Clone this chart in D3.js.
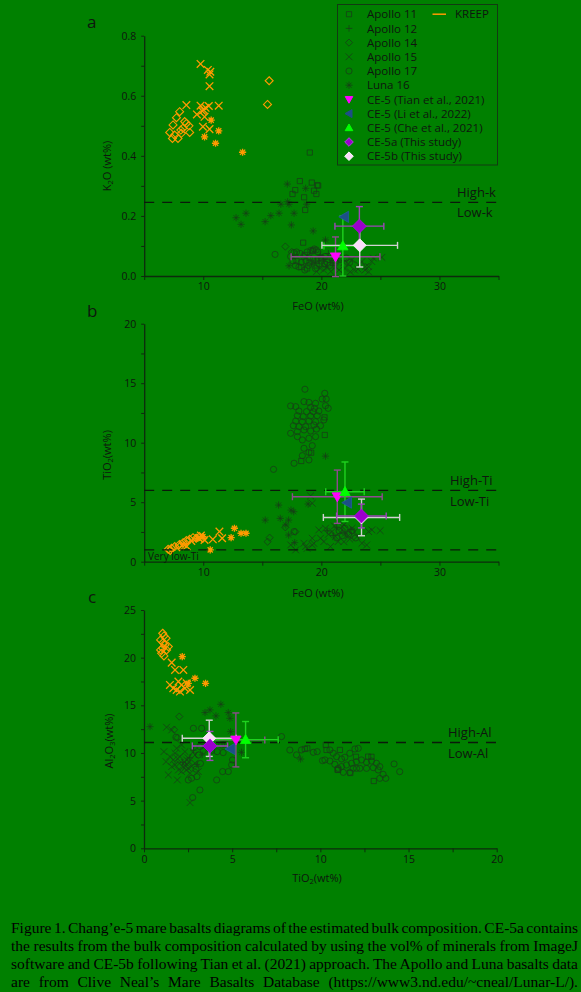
<!DOCTYPE html>
<html>
<head>
<meta charset="utf-8">
<script src="https://cdn.jsdelivr.net/npm/d3@7"></script>
<style>
  html, body { margin: 0; padding: 0; background: #008000; }
  svg { display: block; }
</style>
</head>
<body>
<svg id="chart" width="581" height="992"></svg>
<script>
// ---------- Tick labels ----------
const feoTicks = [10, 20, 30];
const k2oTicks = [0, 0.2, 0.4, 0.6, 0.8];
const tio2Ticks = [0, 5, 10, 15, 20];
const al2o3Ticks = [0, 5, 10, 15, 20, 25];

// ---------- Panel a: FeO vs K2O ----------
const aApollo11 = [[19.02,0.411],[18.18,0.316],[19.19,0.311],[19.66,0.302],[17.56,0.273],[17.79,0.286],[18.54,0.262],[18.63,0.220],[19.38,0.284],[19.58,0.273],[18.46,0.111],[19.73,0.301],[18.3,0.030],[19.0,0.045],[18.8,0.025],[19.6,0.035],[20.3,0.040],[17.9,0.050],[20.0,0.060],[19.3,0.085],[18.6,0.070]];
const aApollo12 = [[19.5,0.050],[20.2,0.055],[20.8,0.045],[21.3,0.060],[21.8,0.050],[19.9,0.070],[20.6,0.075],[21.0,0.035],[19.2,0.040],[20.4,0.030]];
const aApollo14 = [[16.95,0.098],[17.5,0.080]];
const aApollo15 = [[23.43,0.048],[24.0,0.031],[24.27,0.048],[25.12,0.062],[23.1,0.023],[22.45,0.014],[23.15,0.037],[22.8,0.020],[22.0,0.025],[21.5,0.020],[20.8,0.015],[20.2,0.020],[19.6,0.015],[21.2,0.030],[22.3,0.040],[23.7,0.020],[24.4,0.060],[22.6,0.055],[21.9,0.045],[20.5,0.030],[19.9,0.025],[23.73,0.031],[24.0,0.014]];
const aApollo17 = [[16.08,0.072],[17.6,0.050],[17.9,0.080],[18.2,0.075],[18.5,0.065],[18.8,0.080],[19.1,0.085],[19.4,0.090],[19.7,0.080],[18.3,0.045],[18.7,0.050],[19.0,0.060],[19.3,0.055],[19.6,0.050],[20.0,0.050],[20.3,0.065],[20.6,0.055],[20.9,0.060],[21.2,0.050],[17.8,0.035],[18.1,0.030],[18.9,0.035],[19.8,0.040],[20.5,0.045],[21.6,0.055],[22.1,0.060],[22.4,0.045],[17.4,0.065],[18.6,0.020],[19.5,0.025],[20.7,0.035],[17.68,0.078],[19.23,0.083],[19.56,0.087]];
const aLuna16 = [[17.12,0.306],[18.67,0.292],[17.26,0.239],[16.57,0.239],[18.75,0.239],[16.42,0.209],[15.72,0.201],[13.62,0.209],[12.78,0.194],[13.2,0.172],[15.24,0.181],[17.69,0.209],[17.46,0.170],[19.31,0.150],[20.35,0.120],[17.26,0.034],[17.14,0.247]];
const aKreepDiamond = [[15.58,0.650],[15.44,0.571],[7.73,0.527],[8.0,0.547],[7.44,0.503],[7.16,0.478],[7.58,0.469],[7.86,0.458],[7.39,0.458],[8.28,0.492],[8.57,0.508],[8.79,0.500],[8.85,0.478],[8.15,0.475],[8.43,0.514],[8.1,0.486]];
const aKreepCross = [[9.77,0.706],[10.39,0.686],[10.53,0.671],[10.6,0.680],[10.53,0.632],[8.57,0.569],[9.77,0.567],[10.47,0.566],[11.31,0.567],[9.46,0.538],[10.03,0.553],[10.11,0.530],[9.97,0.497],[10.53,0.489],[10.2,0.560],[9.9,0.550]];
const aKreepStar = [[10.67,0.519],[11.31,0.483],[10.11,0.463],[11.04,0.442],[13.33,0.412]];

// ---------- Panel b: FeO vs TiO2 ----------
const bApollo11 = [[20.29,10.65],[19.14,9.16],[18.3,8.46],[20.27,12.13]];
const bApollo12 = [[20.5,2.6],[21.3,2.9],[22.0,2.4],[21.0,2.2],[22.5,2.7]];
const bApollo14 = [[15.45,1.68],[15.62,2.02],[16.95,2.89],[17.8,2.52]];
const bApollo15 = [[17.41,1.41],[17.83,0.99],[18.53,1.55],[19.23,1.97],[18.67,1.27],[19.79,2.67],[19.93,1.97],[20.35,2.81],[20.91,2.53],[21.2,2.11],[21.76,2.95],[22.04,2.39],[22.6,2.81],[23.02,2.11],[23.44,1.55],[24.0,2.53],[24.28,2.67],[24.98,2.61],[21.42,1.69],[20.77,1.27],[20.21,1.69],[19.23,1.41],[19.09,5.53],[19.23,4.91],[23.84,1.4],[18.79,1.12],[19.36,1.54],[21.91,1.68],[22.3,2.2],[21.6,2.5],[22.8,2.5],[21.9,3.1],[22.4,1.9],[20.6,2.3],[21.1,3.0]];
const bApollo17 = [[18.61,14.49],[20.29,14.15],[20.07,13.67],[20.41,13.67],[17.4,13.09],[17.83,13.03],[18.53,13.45],[18.95,13.39],[19.51,13.31],[19.42,12.89],[19.09,12.97],[18.1,12.66],[18.75,12.61],[19.31,12.61],[19.79,12.66],[20.58,12.89],[20.35,13.11],[17.97,12.27],[18.47,12.19],[19.09,12.24],[19.65,12.27],[20.21,11.91],[17.83,11.82],[18.39,11.77],[18.95,11.82],[19.51,11.77],[17.63,11.43],[18.1,11.35],[18.67,11.35],[19.37,11.49],[19.93,11.43],[17.4,10.79],[17.97,10.93],[18.53,11.07],[19.09,10.98],[19.59,11.15],[17.97,10.51],[18.39,10.23],[18.95,10.37],[19.51,10.51],[19.23,9.75],[18.53,9.53],[18.95,9.19],[18.39,8.91],[17.69,8.27],[18.95,8.55],[15.95,7.76],[17.69,2.53],[21.5,2.6],[22.0,2.8],[22.3,2.3],[21.8,2.2],[22.6,2.6],[21.3,2.0],[22.9,2.0]];
const bLuna16 = [[15.25,3.50],[16.38,4.76],[16.52,3.64],[17.23,3.50],[17.43,4.34],[17.66,4.20],[17.23,2.24],[17.74,1.60],[18.88,4.85],[20.35,8.87],[16.99,3.09]];
const bKreepDiamond = [[7.03,1.04],[7.31,1.13],[7.59,1.27],[7.95,1.41],[8.29,1.6],[8.57,1.77],[8.85,1.88],[9.13,2.02],[9.41,1.97],[9.69,2.11],[9.97,1.97],[7.2,0.95],[8.0,1.25]];
const bKreepCross = [[11.37,2.53],[10.81,1.88],[11.6,1.97],[8.29,1.49],[8.99,1.74],[9.63,1.97],[10.11,1.83],[9.8,2.2],[8.6,1.3]];
const bKreepStar = [[10.59,0.99],[12.36,2.02],[12.64,2.81],[13.2,2.39],[13.62,2.39],[9.97,2.11],[9.55,1.97]];

// ---------- Panel c: TiO2 vs Al2O3 ----------
const cApollo11 = [[9.12,10.42],[9.26,10.49],[10.31,10.84],[10.35,10.32],[11.11,10.32],[11.01,8.22],[12.71,9.62],[13.03,7.06],[10.97,8.25],[12.02,9.6],[11.7,7.9],[12.9,9.6]];
const cApollo12 = [[2.6,9.5],[3.0,8.8],[2.2,9.0],[2.8,10.3],[3.3,9.8]];
const cApollo14 = [[2.0,13.82],[1.71,12.45],[1.9,11.6]];
const cApollo15 = [[1.28,12.7],[1.57,12.42],[1.13,10.14],[1.85,10.49],[1.47,9.62],[1.25,9.09],[1.57,8.57],[1.38,7.7],[1.89,7.17],[2.61,4.79],[2.89,8.92],[3.08,8.05],[2.79,10.14],[2.32,10.14],[2.04,9.62],[2.42,9.27],[2.23,8.57],[1.95,8.22],[2.61,7.87],[1.66,9.27],[1.76,9.97],[2.13,10.84],[2.51,8.4],[2.89,9.79],[1.76,8.75],[2.13,8.05],[2.3,9.0],[2.5,9.5],[2.0,8.9],[2.7,8.6],[1.9,9.4],[2.4,8.2],[2.45,8.8],[2.35,8.6],[2.55,9.1]];
const cApollo17 = [[2.8,12.59],[3.27,12.59],[1.81,11.65],[3.36,10.25],[3.83,10.25],[4.4,10.84],[4.59,10.95],[4.15,10.14],[4.49,10.04],[5.02,9.27],[4.97,8.75],[4.12,7.17],[4.46,8.05],[4.78,8.05],[3.17,6.12],[2.76,5.32],[2.51,7.17],[2.7,7.35],[3.0,7.52],[7.8,11.72],[3.08,9.79],[3.17,10.67],[2.95,8.3],[3.2,8.9],[8.27,10.31],[8.65,9.8],[8.93,10.32],[9.6,10.07],[9.82,10.14],[10.12,9.2],[10.26,9.27],[10.54,10.32],[10.73,9.97],[10.92,9.62],[11.2,9.37],[11.39,9.55],[11.67,9.97],[11.96,10.42],[12.15,10.49],[10.54,9.16],[10.82,8.81],[11.2,8.57],[11.48,8.74],[11.77,8.92],[12.05,9.09],[12.33,9.27],[12.62,9.02],[12.9,9.16],[13.18,8.92],[13.37,8.57],[11.86,8.39],[12.24,8.39],[12.62,8.39],[13.0,8.46],[13.28,8.22],[13.56,7.76],[13.71,7.34],[13.37,7.34],[14.18,8.85],[14.5,8.04],[11.3,7.97],[11.67,7.97],[12.05,8.39],[11.01,8.39]];
const cLuna16 = [[0.34,12.76],[4.36,15.11],[3.74,14.52],[3.46,14.24],[4.08,13.89],[4.87,13.64],[4.78,14.24],[4.91,12.24],[5.53,10.07],[8.88,9.37]];
const cKreepDiamond = [[1.06,22.56],[1.13,22.28],[0.94,21.86],[1.09,21.58],[1.19,21.34],[1.06,20.99],[1.28,20.81],[1.0,20.46],[1.13,20.18],[1.38,21.16],[0.94,20.81],[1.25,22.04]];
const cKreepCross = [[1.57,19.48],[1.76,18.71],[2.23,18.71],[1.47,17.14],[1.66,16.79],[1.95,17.49],[2.13,17.14],[2.32,16.79],[2.61,16.61],[1.85,16.61],[2.42,17.31],[2.04,16.44]];
const cKreepStar = [[2.17,20.11],[2.89,17.84],[3.49,17.31],[2.51,17.31]];

// ---------- Chang'e-5 estimates: [x, y, xError, yError] per panel ----------
const ce5Tian = { a: [21.2, 0.064, 3.76, 0.066], b: [21.35, 5.46, 3.8, 2.24], c: [5.21, 11.37, 1.64, 2.83] };
const ce5Li   = { a: [21.95, 0.197, 0, 0],        b: [22.2, 4.96, 0, 0],      c: [4.91, 10.42, 0, 0] };
const ce5Che  = { a: [21.82, 0.100, 1.6, 0.1],    b: [22.0, 5.88, 1.63, 2.5], c: [5.76, 11.40, 1.85, 1.9] };
const ce5a    = { a: [23.22, 0.166, 2.07, 0.065], b: [23.39, 3.84, 2.1, 1.0], c: [3.74, 10.74, 1.0, 1.52] };
const ce5b    = { a: [23.25, 0.102, 3.2, 0.072],  b: [23.4, 3.72, 3.23, 1.54], c: [3.70, 11.54, 1.53, 1.9] };

// ---------- Classification boundaries ----------
const k2oBoundary = [0.245];
const tio2Boundaries = [6, 1];
const al2o3Boundary = [11.1];

const captionLines = [
  "Figure 1. Chang\u2019e-5 mare basalts diagrams of the estimated bulk composition. CE-5a contains",
  "the results from the bulk composition calculated by using the vol% of minerals from ImageJ",
  "software and CE-5b following Tian et al. (2021) approach. The Apollo and Luna basalts data",
  "are from Clive Neal\u2019s Mare Basalts Database (https://www3.nd.edu/~cneal/Lunar-L/)."
];

// ---------- Drawing ----------
const svg = d3.select('#chart');
const FONT = "'Open Sans', 'Noto Sans', sans-serif";
const INK = '#0e160e';
const AXIS = '#0d2a0d';
const DARK = '#163f16';
const ORANGE = '#ff9a00';

svg.append('rect').attr('width', 581).attr('height', 992).attr('fill', '#008000');

function sym(type, r) {
  const k = r * 0.72;
  switch (type) {
    case 'circle': return d3.symbol(d3.symbolCircle, Math.PI * r * r)();
    case 'square': return `M${-r},${-r}H${r}V${r}H${-r}Z`;
    case 'diamond': return `M0,${-r}L${r},0L0,${r}L${-r},0Z`;
    case 'x': return `M${-r},${-r}L${r},${r}M${-r},${r}L${r},${-r}`;
    case 'plus': return `M${-r},0H${r}M0,${-r}V${r}`;
    case 'star': return `M${-r},0H${r}M0,${-r}V${r}M${-k},${-k}L${k},${k}M${-k},${k}L${k},${-k}`;
    case 'triDown': return `M${-r},${-r * 0.75}L${r},${-r * 0.75}L0,${r}Z`;
    case 'triUp': return `M${-r},${r * 0.75}L${r},${r * 0.75}L0,${-r}Z`;
    case 'triLeft': return `M${-r},0L${r * 0.75},${-r}L${r * 0.75},${r}Z`;
  }
}

function drawPanel(cfg) {
  const g = svg.append('g');
  const x = d3.scaleLinear().domain(cfg.xDomain).range(cfg.xRange);
  const y = d3.scaleLinear().domain(cfg.yDomain).range(cfg.yRange);

  // axes with minor ticks between labelled ones
  const xAll = d3.range(cfg.xDomain[0], cfg.xDomain[1] + 1e-9, cfg.xMinor);
  const yAll = d3.range(cfg.yDomain[0], cfg.yDomain[1] + 1e-9, cfg.yMinor);
  const xAxis = d3.axisBottom(x).tickValues(xAll).tickSize(4).tickSizeOuter(0).tickPadding(3)
    .tickFormat(v => cfg.xLabels.some(t => Math.abs(t - v) < 1e-6) ? d3.format(cfg.xFmt)(v) : '');
  const yAxis = d3.axisLeft(y).tickValues(yAll).tickSize(3).tickSizeOuter(0).tickPadding(5)
    .tickFormat(v => cfg.yLabels.some(t => Math.abs(t - v) < 1e-6) ? d3.format(cfg.yFmt)(v) : '');
  const gx = g.append('g').attr('transform', `translate(0,${cfg.yRange[0]})`).call(xAxis);
  const gy = g.append('g').attr('transform', `translate(${cfg.xRange[0]},0)`).call(yAxis);
  [gx, gy].forEach(ax => {
    ax.select('.domain').attr('stroke', AXIS).attr('stroke-width', 1.3);
    ax.selectAll('.tick line').attr('stroke', AXIS).attr('stroke-width', 1);
    ax.selectAll('.tick text').attr('fill', INK).style('font-family', FONT).style('font-size', '10.5px');
  });

  // reference basalt series
  const plain = [
    { data: cfg.apollo11, shape: 'square', r: 2.6, color: DARK, op: 0.8, w: 1 },
    { data: cfg.apollo12, shape: 'plus', r: 3.3, color: DARK, op: 0.8, w: 1 },
    { data: cfg.apollo14, shape: 'diamond', r: 3.6, color: DARK, op: 0.8, w: 1 },
    { data: cfg.apollo15, shape: 'x', r: 3.4, color: DARK, op: 0.8, w: 1 },
    { data: cfg.apollo17, shape: 'circle', r: 3.1, color: DARK, op: 0.8, w: 1 },
    { data: cfg.luna16, shape: 'star', r: 3.6, color: DARK, op: 0.75, w: 1 },
    { data: cfg.kreepDiamond, shape: 'diamond', r: 4, color: ORANGE, op: 1, w: 1.1 },
    { data: cfg.kreepCross, shape: 'x', r: 3.8, color: ORANGE, op: 1, w: 1.3 },
    { data: cfg.kreepStar, shape: 'star', r: 3.6, color: ORANGE, op: 1, w: 1.3 }
  ];
  plain.forEach(s => {
    g.append('g').selectAll('path').data(s.data).join('path')
      .attr('transform', d => `translate(${x(d[0])},${y(d[1])})`)
      .attr('d', sym(s.shape, s.r))
      .attr('fill', 'none').attr('stroke', s.color)
      .attr('stroke-opacity', s.op).attr('stroke-width', s.w);
  });
  // filled centres of the orange asterisks
  g.append('g').selectAll('circle').data(cfg.kreepStar).join('circle')
    .attr('cx', d => x(d[0])).attr('cy', d => y(d[1])).attr('r', 1.8).attr('fill', ORANGE);

  // classification boundaries
  cfg.lines.forEach(v => {
    g.append('line').attr('x1', cfg.xRange[0]).attr('x2', cfg.xRange[1])
      .attr('y1', y(v)).attr('y2', y(v))
      .attr('stroke', '#0a1a0a').attr('stroke-width', 1.3).attr('stroke-dasharray', '10,8');
  });
  cfg.texts.forEach(t => {
    g.append('text').attr('x', t.x).attr('y', t.y).text(t.s)
      .attr('fill', INK).style('font-family', FONT).style('font-size', t.size + 'px');
  });

  // Chang'e-5 estimates with error bars
  const ce = [
    { v: ce5Tian[cfg.key], shape: 'triDown', r: 5.2, fill: '#ff00ff', bar: '#8f4a90' },
    { v: ce5Li[cfg.key], shape: 'triLeft', r: 5.6, fill: '#1d4f86', bar: '#1d4f86' },
    { v: ce5Che[cfg.key], shape: 'triUp', r: 5.2, fill: '#00ff00', bar: '#1fd21f' },
    { v: ce5b[cfg.key], shape: 'diamond', r: 6.5, fill: '#fcdcfc', bar: '#d2d2d2' },
    { v: ce5a[cfg.key], shape: 'diamond', r: 7, fill: '#9a00cc', bar: '#9c45b8' }
  ];
  const cap = 3.5;
  ce.forEach(p => {
    const [cx, cy, ex, ey] = p.v;
    const eb = g.append('g').attr('stroke', p.bar).attr('stroke-width', 1.4).attr('fill', 'none');
    if (ex > 0) {
      eb.append('line').attr('x1', x(cx - ex)).attr('x2', x(cx + ex)).attr('y1', y(cy)).attr('y2', y(cy));
      [cx - ex, cx + ex].forEach(e => eb.append('line').attr('x1', x(e)).attr('x2', x(e))
        .attr('y1', y(cy) - cap).attr('y2', y(cy) + cap));
    }
    if (ey > 0) {
      eb.append('line').attr('x1', x(cx)).attr('x2', x(cx)).attr('y1', y(cy - ey)).attr('y2', y(cy + ey));
      [cy - ey, cy + ey].forEach(e => eb.append('line').attr('y1', y(e)).attr('y2', y(e))
        .attr('x1', x(cx) - cap).attr('x2', x(cx) + cap));
    }
  });
  ce.forEach(p => {
    g.append('path').attr('transform', `translate(${x(p.v[0])},${y(p.v[1])})`)
      .attr('d', sym(p.shape, p.r)).attr('fill', p.fill)
      .attr('stroke', d3.color(p.fill).brighter(0.4)).attr('stroke-width', 0.8);
  });

  // axis titles and panel letter
  const xt = g.append('text').attr('x', cfg.xTitle[0]).attr('y', cfg.xTitle[1]).attr('text-anchor', 'middle')
    .attr('fill', INK).style('font-family', FONT).style('font-size', '11px');
  cfg.xTitleParts.forEach(pt => xt.append('tspan').text(pt[0])
    .attr('baseline-shift', pt[1] ? '-30%' : null).style('font-size', pt[1] ? '7.5px' : null));
  const yt = g.append('text').attr('text-anchor', 'middle')
    .attr('transform', `translate(${cfg.yTitle[0]},${cfg.yTitle[1]}) rotate(-90)`)
    .attr('fill', INK).style('font-family', FONT).style('font-size', '11px');
  cfg.yTitleParts.forEach(pt => yt.append('tspan').text(pt[0])
    .attr('baseline-shift', pt[1] ? '-30%' : null).style('font-size', pt[1] ? '7.5px' : null));
  g.append('text').attr('x', cfg.letter[0]).attr('y', cfg.letter[1]).text(cfg.letter[2])
    .attr('fill', INK).style('font-family', FONT).style('font-size', '17px');
}

drawPanel({
  key: 'a', xDomain: [5, 35], xRange: [144.2, 498.5], yDomain: [0, 0.8], yRange: [276, 35.7],
  xMinor: 5, yMinor: 0.1, xLabels: feoTicks, yLabels: k2oTicks, xFmt: 'd', yFmt: '.1f',
  apollo11: aApollo11, apollo12: aApollo12, apollo14: aApollo14, apollo15: aApollo15, apollo17: aApollo17,
  luna16: aLuna16, kreepDiamond: aKreepDiamond, kreepCross: aKreepCross, kreepStar: aKreepStar,
  lines: k2oBoundary,
  texts: [{ x: 457, y: 197, s: 'High-k', size: 13 }, { x: 457, y: 217, s: 'Low-k', size: 13 }],
  xTitle: [318, 310], xTitleParts: [['FeO (wt%)', false]],
  yTitle: [111, 166], yTitleParts: [['K', false], ['2', true], ['O (wt%)', false]],
  letter: [87, 28, 'a']
});

drawPanel({
  key: 'b', xDomain: [5, 35], xRange: [144.2, 498.5], yDomain: [0, 20], yRange: [561.7, 323.7],
  xMinor: 5, yMinor: 2.5, xLabels: feoTicks, yLabels: tio2Ticks, xFmt: 'd', yFmt: 'd',
  apollo11: bApollo11, apollo12: bApollo12, apollo14: bApollo14, apollo15: bApollo15, apollo17: bApollo17,
  luna16: bLuna16, kreepDiamond: bKreepDiamond, kreepCross: bKreepCross, kreepStar: bKreepStar,
  lines: tio2Boundaries,
  texts: [{ x: 450, y: 485, s: 'High-Ti', size: 13 }, { x: 450, y: 506, s: 'Low-Ti', size: 13 },
          { x: 148, y: 560, s: 'Very low-Ti', size: 10 }],
  xTitle: [318, 597], xTitleParts: [['FeO (wt%)', false]],
  yTitle: [111, 455], yTitleParts: [['TiO', false], ['2', true], ['(wt%)', false]],
  letter: [87, 317, 'b']
});

drawPanel({
  key: 'c', xDomain: [0, 20], xRange: [144, 496.7], yDomain: [0, 25], yRange: [848.3, 610],
  xMinor: 2.5, yMinor: 2.5, xLabels: tio2Ticks, yLabels: al2o3Ticks, xFmt: 'd', yFmt: 'd',
  apollo11: cApollo11, apollo12: cApollo12, apollo14: cApollo14, apollo15: cApollo15, apollo17: cApollo17,
  luna16: cLuna16, kreepDiamond: cKreepDiamond, kreepCross: cKreepCross, kreepStar: cKreepStar,
  lines: al2o3Boundary,
  texts: [{ x: 448, y: 737, s: 'High-Al', size: 13 }, { x: 448, y: 758, s: 'Low-Al', size: 13 }],
  xTitle: [317, 882], xTitleParts: [['TiO', false], ['2', true], ['(wt%)', false]],
  yTitle: [113, 741], yTitleParts: [['Al', false], ['2', true], ['O', false], ['3', true], ['(wt%)', false]],
  letter: [88, 603, 'c']
});

// ---------- Legend ----------
const legendItems = [
  ['Apollo 11', 'square', 2.6, 'none', DARK],
  ['Apollo 12', 'plus', 3.3, 'none', DARK],
  ['Apollo 14', 'diamond', 3.6, 'none', DARK],
  ['Apollo 15', 'x', 3.4, 'none', DARK],
  ['Apollo 17', 'circle', 3.1, 'none', DARK],
  ['Luna 16', 'star', 3.6, 'none', DARK],
  ['CE-5 (Tian et al., 2021)', 'triDown', 3.8, '#ff00ff', '#ff00ff'],
  ['CE-5 (Li et al., 2022)', 'triLeft', 4, '#1d4f86', '#1d4f86'],
  ['CE-5 (Che et al., 2021)', 'triUp', 3.8, '#00ff00', '#00ff00'],
  ['CE-5a (This study)', 'diamond', 4.3, '#9a00cc', '#b040e0'],
  ['CE-5b (This study)', 'diamond', 4.3, '#fcdcfc', '#ffffff']
];
const lg = svg.append('g');
lg.append('rect').attr('x', 337.5).attr('y', 4.5).attr('width', 160).attr('height', 160.5)
  .attr('fill', '#008000').attr('stroke', '#123a12').attr('stroke-width', 1);
legendItems.forEach((it, i) => {
  const yy = 14.2 + i * 14.2;
  lg.append('path').attr('transform', `translate(349,${yy})`).attr('d', sym(it[1], it[2]))
    .attr('fill', it[3]).attr('stroke', it[4]).attr('stroke-width', 1)
    .attr('stroke-opacity', it[3] === 'none' ? 0.8 : 1);
  lg.append('text').attr('x', 367).attr('y', yy).attr('dy', '0.36em').text(it[0])
    .attr('fill', INK).style('font-family', FONT).style('font-size', '11.5px');
});
lg.append('line').attr('x1', 432.5).attr('x2', 446).attr('y1', 14.2).attr('y2', 14.2)
  .attr('stroke', ORANGE).attr('stroke-width', 1.5);
lg.append('text').attr('x', 455).attr('y', 14.2).attr('dy', '0.36em').text('KREEP')
  .attr('fill', INK).style('font-family', FONT).style('font-size', '11.5px');

// ---------- Caption (justified lines) ----------
captionLines.forEach((t, i) => {
  const el = svg.append('text').attr('x', 11).attr('y', 933 + i * 18).text(t)
    .attr('fill', '#000').style('font-family', "'Liberation Serif', 'Times New Roman', serif")
    .style('font-size', '15.5px');
  const natural = el.node().getComputedTextLength();
  const gaps = t.split(' ').length - 1;
  el.style('word-spacing', ((567 - natural) / gaps) + 'px');
});
</script>
</body>
</html>
